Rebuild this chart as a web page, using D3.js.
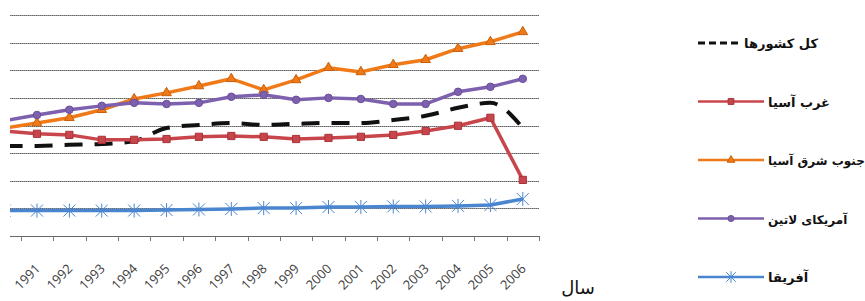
<!DOCTYPE html>
<html>
<head>
<meta charset="utf-8">
<script src="https://cdn.jsdelivr.net/npm/d3@7"></script>
<style>
  body { margin: 0; background: #fff; }
  svg { display: block; }
  .tick-label { font-family: "Open Sans", "Liberation Sans", sans-serif; font-size: 13px; fill: #404040; }
  .fa { font-family: "DejaVu Sans", sans-serif; fill: #111; }
</style>
</head>
<body>
<svg id="svg" width="865" height="301"></svg>
<script>
// categories: 1990 sits just off the left edge of the cropped picture
var years = ['1990', '1991', '1992', '1993', '1994', '1995', '1996', '1997', '1998',
             '1999', '2000', '2001', '2002', '2003', '2004', '2005', '2006'];

var allCountries = [32.6, 32.6, 33.0, 33.3, 34.4, 39.1, 40.2, 40.9, 40.2, 40.6, 40.9, 40.9, 42.0, 43.5, 46.4, 48.2, 39.1];
var westAsia     = [38.0, 37.0, 36.6, 34.8, 34.8, 35.1, 35.9, 36.2, 35.9, 35.1, 35.5, 35.9, 36.6, 38.0, 39.9, 42.8, 20.3];
var seAsia       = [39.1, 40.9, 42.8, 45.7, 49.6, 51.8, 54.3, 56.9, 52.9, 56.5, 60.9, 59.4, 62.0, 63.8, 67.8, 70.3, 73.9];
var latinAmerica = [41.7, 43.8, 45.7, 47.1, 48.2, 47.8, 48.2, 50.4, 51.1, 49.3, 50.0, 49.6, 47.8, 47.8, 52.2, 54.0, 56.9];
var africa       = [9.2, 9.2, 9.2, 9.2, 9.2, 9.4, 9.6, 9.8, 10.1, 10.1, 10.5, 10.5, 10.7, 10.7, 10.9, 11.2, 13.4];

var yTicks = [10, 20, 30, 40, 50, 60, 70, 80];
var xTitle = 'سال';

var series = [
  { name: 'کل کشورها',     values: allCountries, color: '#111111', marker: 'none',     dashed: true },
  { name: 'غرب آسیا',      values: westAsia,     color: '#c8464b', marker: 'square' },
  { name: 'جنوب شرق آسیا', values: seAsia,       color: '#f07a18', marker: 'triangle' },
  { name: 'آمریکای لاتین', values: latinAmerica, color: '#7d60ae', marker: 'circle' },
  { name: 'آفریقا',        values: africa,       color: '#4a86d0', marker: 'star' }
];

var svg = d3.select('#svg'),
    plotLeft = -11.6,
    plotRight = 539,
    plotTop = 15,
    plotBottom = 236,
    cropLeft = 10;

var x = d3.scaleBand().domain(years).range([plotLeft, plotRight]);
var y = d3.scaleLinear().domain([0, 80]).range([plotBottom, plotTop]);

function cx(d, i) { return x(years[i]) + x.bandwidth() / 2; }

// ==========================================================
// === clip: the picture is cropped a little from the left

svg.append('defs').append('clipPath').attr('id', 'crop')
  .append('rect')
  .attr('x', cropLeft).attr('y', 0)
  .attr('width', 865 - cropLeft).attr('height', 301);

var chart = svg.append('g').attr('clip-path', 'url(#crop)');

// gridlines (dotted)
chart.append('g').selectAll('line')
  .data(yTicks).enter().append('line')
  .attr('x1', plotLeft).attr('x2', plotRight)
  .attr('y1', function (d) { return Math.round(y(d)) + 0.5; })
  .attr('y2', function (d) { return Math.round(y(d)) + 0.5; })
  .attr('stroke', '#000')
  .attr('stroke-width', 1)
  .attr('stroke-dasharray', '1,1');

// x axis, ticks between categories (1990 label is off the picture)
var xAxis = d3.axisBottom(x).tickSize(0).tickPadding(0).tickValues(years.slice(1));
var axisG = chart.append('g')
  .attr('transform', 'translate(0,' + (plotBottom + 0.5) + ')')
  .call(xAxis);
axisG.select('.domain').attr('stroke', '#666').attr('d', 'M' + plotLeft + ',0H' + plotRight);
axisG.selectAll('.tick line').remove();
axisG.selectAll('.tick text')
  .attr('class', 'tick-label')
  .attr('text-anchor', 'end')
  .attr('dy', null)
  .attr('transform', 'translate(4,33) rotate(-45)');

chart.append('g').selectAll('line')
  .data(years.concat(['end'])).enter().append('line')
  .attr('x1', function (d, i) { return Math.round(plotLeft + i * x.step()) + 0.5; })
  .attr('x2', function (d, i) { return Math.round(plotLeft + i * x.step()) + 0.5; })
  .attr('y1', plotBottom).attr('y2', plotBottom + 5)
  .attr('stroke', '#777');

// series
var lineGen = d3.line().x(cx).y(function (d) { return y(d); });

series.forEach(function (s) {
  var g = chart.append('g');
  g.append('path')
    .datum(s.values)
    .attr('fill', 'none')
    .attr('stroke', s.color)
    .attr('stroke-width', s.dashed ? 4 : 3.5)
    .attr('stroke-linejoin', 'round')
    .attr('stroke-dasharray', s.dashed ? '18,12' : null)
    .attr('d', lineGen.curve(s.dashed ? d3.curveMonotoneX : d3.curveLinear));

  g.selectAll('.m').data(s.values).enter().append('path')
    .attr('class', 'm')
    .attr('transform', function (d, i) { return 'translate(' + cx(d, i) + ',' + y(d) + ')'; })
    .each(function () { drawMarker(d3.select(this), s); });
});

// x title
svg.append('text').attr('class', 'fa')
  .attr('x', 578).attr('y', 294)
  .attr('text-anchor', 'middle')
  .attr('font-size', 18)
  .text(xTitle);

// ==========================================================
// === legend

var legend = svg.append('g');
series.forEach(function (s, i) {
  var ly = 43 + i * 58.5,
      row = legend.append('g').attr('transform', 'translate(0,' + ly + ')');
  row.append('line')
    .attr('x1', 698).attr('x2', s.dashed ? 738 : 764)
    .attr('y1', 0).attr('y2', 0)
    .attr('stroke', s.color)
    .attr('stroke-width', s.dashed ? 3 : 2.5)
    .attr('stroke-dasharray', s.dashed ? '7,4' : null);
  if (s.marker !== 'none') {
    row.append('path').attr('transform', 'translate(731,0)')
      .each(function () { drawMarker(d3.select(this), s, 0.8); });
  }
  row.append('text').attr('class', 'fa')
    .attr('x', s.dashed ? 744 : 768).attr('y', 5)
    .attr('font-size', s.name.length > 12 ? 12 : 13)
    .attr('font-weight', 'bold')
    .attr('direction', 'rtl')
    .attr('text-anchor', 'end')
    .text(s.name);
});

// ==========================================================
// === markers

function drawMarker (sel, s, k) {
  k = k || 1;
  var sym;
  if (s.marker === 'square') {
    sym = d3.symbol(d3.symbolSquare, 52 * k * k);
    sel.attr('d', sym()).attr('fill', s.color).attr('stroke', '#a8333a').attr('stroke-width', 1);
  } else if (s.marker === 'triangle') {
    sym = d3.symbol(d3.symbolTriangle, 40 * k * k);
    sel.attr('d', sym()).attr('fill', s.color).attr('stroke', '#c85f0c').attr('stroke-width', 1);
  } else if (s.marker === 'circle') {
    sym = d3.symbol(d3.symbolCircle, 45 * k * k);
    sel.attr('d', sym()).attr('fill', s.color).attr('stroke', '#6a4f99').attr('stroke-width', 1);
  } else if (s.marker === 'star') {
    var r = 6 * k;
    sel.attr('d', 'M' + (-r) + ',' + (-r) + 'L' + r + ',' + r +
                  'M' + (-r) + ',' + r + 'L' + r + ',' + (-r) +
                  'M0,' + (-r - 1) + 'L0,' + (r + 1))
      .attr('fill', 'none').attr('stroke', '#4a86d0').attr('stroke-width', 1);
  } else {
    sel.remove();
  }
}
</script>
</body>
</html>
